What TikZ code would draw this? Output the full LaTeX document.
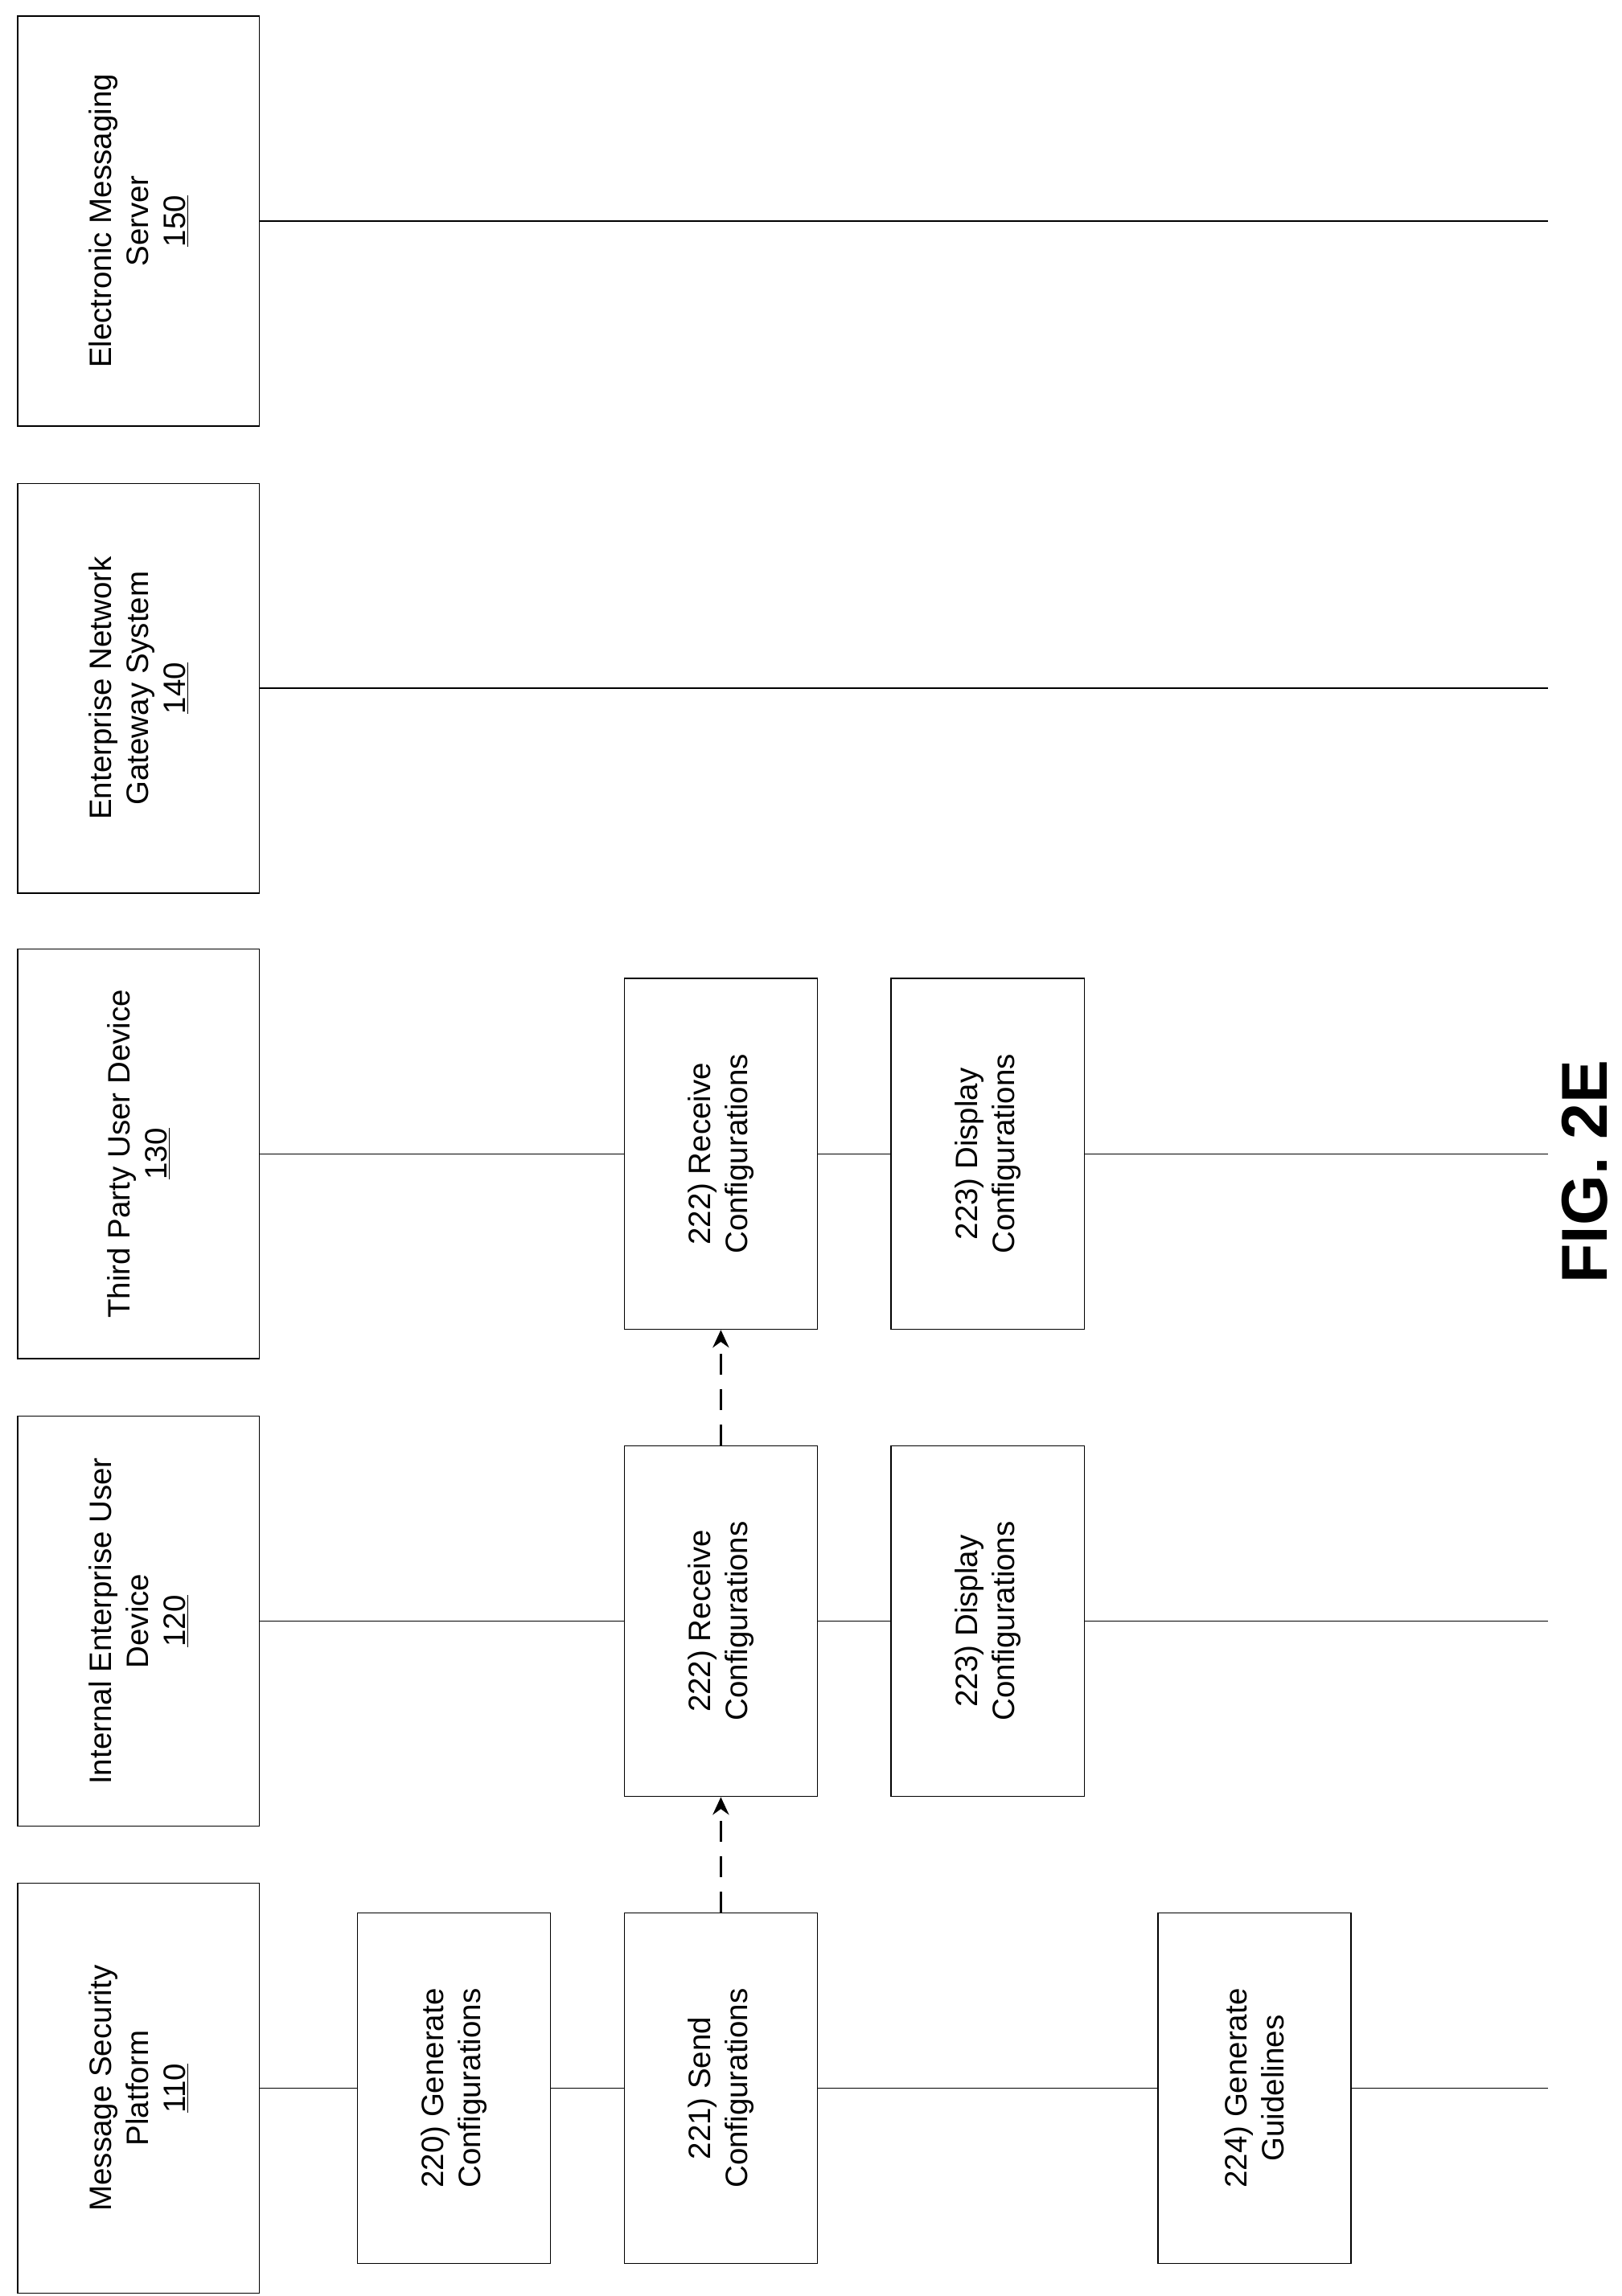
\documentclass[tikz,border=0pt]{standalone}
\usepackage{fontspec}
\setmainfont{Liberation Sans}
\usetikzlibrary{arrows.meta, positioning}

\begin{document}
\begin{tikzpicture}[x=1pt, y=-1pt, thick,
	hdr/.style={draw, rotate=90, fill=white, align=center, minimum width=278pt, minimum height=164pt, font=\fontsize{21}{25}\selectfont},
	stepbox/.style={draw, rotate=90, fill=white, align=center, minimum width=238pt, minimum height=131pt, font=\fontsize{21}{25}\selectfont},
	msg/.style={-{Stealth[length=12pt, width=11pt]}, line width=1.8pt, dash pattern=on 14pt off 10pt}]
	\useasboundingbox (0,0) rectangle (1100,1558);

	\node[hdr]	(P)	at	(94, 1417)	{Message Security\\Platform\\\underline{110}};
	\node[hdr]	(I)	at	(94, 1100)	{Internal Enterprise User\\Device\\\underline{120}};
	\node[hdr]	(T)	at	(94, 783)	{Third Party User Device\\\underline{130}};
	\node[hdr]	(G)	at	(94, 467)	{Enterprise Network\\Gateway System\\\underline{140}};
	\node[hdr]	(S)	at	(94, 150)	{Electronic Messaging\\Server\\\underline{150}};

	% lifelines
	\foreach \n/\y in {P/1417, I/1100, T/783, G/467, S/150} {
		\coordinate (\n end) at (1050, \y);
		\draw (\n) -- (\n end);
	}

	\node[stepbox]	(gen)	at	(308, 1417)	{220) Generate\\Configurations};
	\node[stepbox]	(send)	at	(489, 1417)	{221) Send\\Configurations};
	\node[stepbox]	(recI)	at	(489, 1100)	{222) Receive\\Configurations};
	\node[stepbox]	(recT)	at	(489, 783)	{222) Receive\\Configurations};
	\node[stepbox]	(disI)	at	(670, 1100)	{223) Display\\Configurations};
	\node[stepbox]	(disT)	at	(670, 783)	{223) Display\\Configurations};
	\node[stepbox]	(guide)	at	(851, 1417)	{224) Generate\\Guidelines};

	\draw[msg]	(send.east) -- (recI.west);
	\draw[msg]	(recI.east) -- (recT.west);

	\node[rotate=90, font=\fontsize{44}{50}\selectfont\bfseries]	(fig)	at	(1075, 795)	{FIG. 2E};
\end{tikzpicture}
\end{document}
